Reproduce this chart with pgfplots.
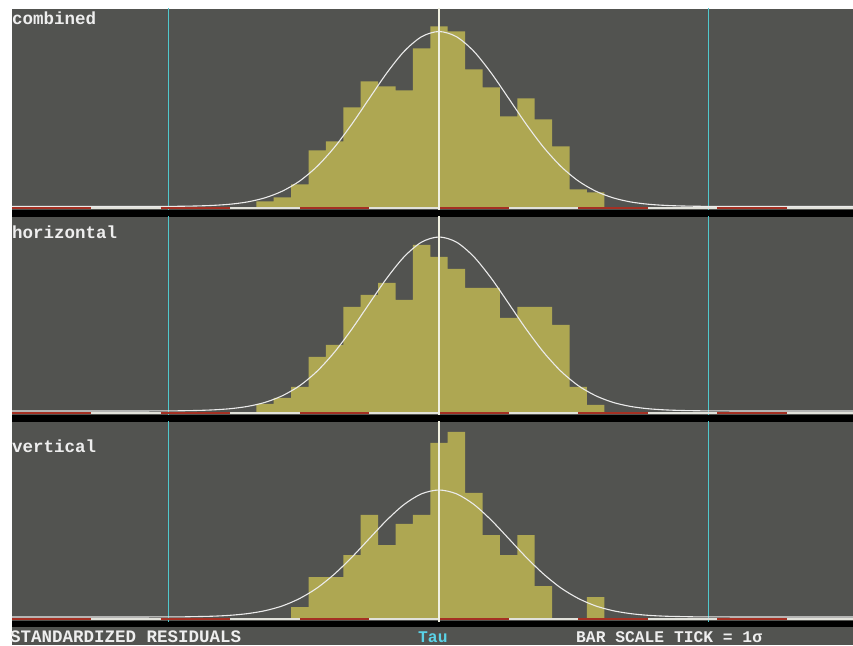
\documentclass[border=0pt]{standalone}
\usepackage{fontspec}
\setmainfont{Liberation Mono}
\newfontfamily\mono{Liberation Mono}
\usepackage{pgfplots}
\pgfplotsset{compat=1.18}
\definecolor{bgc}{RGB}{82,83,80}
\definecolor{barc}{RGB}{174,167,82}
\definecolor{cyanc}{RGB}{80,200,205}
\definecolor{centc}{RGB}{240,240,225}
\definecolor{curvec}{RGB}{235,235,235}
\definecolor{tickred}{RGB}{165,48,35}
\definecolor{tickwhite}{RGB}{225,225,218}
\definecolor{txtc}{RGB}{238,238,238}
\definecolor{tauc}{RGB}{90,210,230}
\newcommand\lab{\mono\bfseries\fontsize{17.5}{18}\selectfont}
\newcommand\labs{\mono\bfseries\fontsize{16.3}{18}\selectfont}
\pgfplotsset{panel/.style={scale only axis, width=841pt, xmin=-6.135, xmax=5.948,
  hide axis, anchor=south west, clip=true}}
\newcommand\decor{%
  \addplot[cyanc, line width=1.5pt] coordinates {(-3.89,-5) (-3.89,260)};
  \addplot[cyanc, line width=1.5pt] coordinates {(3.87,-5) (3.87,260)};
}
\newcommand\ticks{%
  \addplot[tickwhite, line width=2.2pt] coordinates {(-6.2,0.3) (6.0,0.3)};
  \addplot[tickred, line width=2.2pt, unbounded coords=jump] coordinates {(-6.2,0.3) (-5,0.3) (-5,nan) (-4,0.3) (-3,0.3) (-3,nan) (-2,0.3) (-1,0.3) (-1,nan) (0,0.3) (1,0.3) (1,nan) (2,0.3) (3,0.3) (3,nan) (4,0.3) (5,0.3)};
  \addplot[centc, line width=1.5pt] coordinates {(0,-5) (0,260)};
}
\begin{document}
\begin{tikzpicture}[x=1pt,y=1pt]
\fill[white] (0,0) rectangle (853,645);
\fill[bgc] (12,0) rectangle (853,636);
\fill[black] (12,428) rectangle (853,435);
\fill[black] (12,223) rectangle (853,230);
\fill[black] (12,18) rectangle (853,24);

% combined
\begin{axis}[panel, at={(12pt,435pt)}, height=201pt, ymin=-1.5, ymax=199.5]
\addplot[const plot, fill=barc, draw=none] coordinates {(-2.625,0) (-2.625,7) (-2.375,11) (-2.125,24) (-1.875,58) (-1.625,67) (-1.375,101) (-1.125,127) (-0.875,122) (-0.625,118) (-0.375,160) (-0.125,182) (0.125,177) (0.375,139) (0.625,121) (0.875,92) (1.125,110) (1.375,89) (1.625,62) (1.875,19) (2.125,16) (2.375,0)} \closedcycle;
\decor
\addplot[curvec, line width=1.1pt, smooth] coordinates {(-6.2,2) (-4.5,2) (-4,2.1) (-3.75,2.2) (-3.5,2.5) (-3.25,3.1) (-3,4.3) (-2.75,6.6) (-2.5,10.7) (-2.25,17.4) (-2,27.6) (-1.75,42.2) (-1.5,61.4) (-1.25,84.6) (-1,110.2) (-0.75,135.5) (-0.5,157.2) (-0.25,171.8) (0,177) (0.25,171.8) (0.5,157.2) (0.75,135.5) (1,110.2) (1.25,84.6) (1.5,61.4) (1.75,42.2) (2,27.6) (2.25,17.4) (2.5,10.7) (2.75,6.6) (3,4.3) (3.25,3.1) (3.5,2.5) (3.75,2.2) (4,2.1) (4.5,2) (6.0,2)};
\ticks
\end{axis}

% horizontal
\begin{axis}[panel, at={(12pt,230pt)}, height=198pt, ymin=-2, ymax=196]
\addplot[const plot, fill=barc, draw=none] coordinates {(-2.625,0) (-2.625,9) (-2.375,15) (-2.125,26) (-1.875,56) (-1.625,68) (-1.375,106) (-1.125,118) (-0.875,130) (-0.625,113) (-0.375,168) (-0.125,156) (0.125,144) (0.375,125) (0.625,125) (0.875,95) (1.125,106) (1.375,106) (1.625,88) (1.875,26) (2.125,8) (2.375,0)} \closedcycle;
\decor
\addplot[curvec, line width=1.1pt, smooth] coordinates {(-6.2,2) (-4.5,2) (-4,2.1) (-3.75,2.2) (-3.5,2.5) (-3.25,3.1) (-3,4.3) (-2.75,6.6) (-2.5,10.6) (-2.25,17.3) (-2,27.4) (-1.75,41.9) (-1.5,61.0) (-1.25,84.1) (-1,109.6) (-0.75,134.8) (-0.5,156.3) (-0.25,170.9) (0,176) (0.25,170.9) (0.5,156.3) (0.75,134.8) (1,109.6) (1.25,84.1) (1.5,61.0) (1.75,41.9) (2,27.4) (2.25,17.3) (2.5,10.6) (2.75,6.6) (3,4.3) (3.25,3.1) (3.5,2.5) (3.75,2.2) (4,2.1) (4.5,2) (6.0,2)};
\ticks
\end{axis}

% vertical
\begin{axis}[panel, at={(12pt,24pt)}, height=199pt, ymin=-2, ymax=197]
\addplot[const plot, fill=barc, draw=none] coordinates {(-2.125,0) (-2.125,12) (-1.875,42) (-1.625,42) (-1.375,64) (-1.125,104) (-0.875,74) (-0.625,95) (-0.375,104) (-0.125,176) (0.125,187) (0.375,126) (0.625,84) (0.875,64) (1.125,84) (1.375,33) (1.625,0) (1.875,0) (2.125,22) (2.375,0)} \closedcycle;
\decor
\addplot[curvec, line width=1.1pt, smooth] coordinates {(-6.2,2) (-4.5,2) (-4,2.1) (-3.75,2.1) (-3.5,2.4) (-3.25,2.8) (-3,3.7) (-2.75,5.4) (-2.5,8.3) (-2.25,13.1) (-2,20.6) (-1.75,31.1) (-1.5,45.1) (-1.25,61.9) (-1,80.5) (-0.75,98.9) (-0.5,114.6) (-0.25,125.2) (0,129) (0.25,125.2) (0.5,114.6) (0.75,98.9) (1,80.5) (1.25,61.9) (1.5,45.1) (1.75,31.1) (2,20.6) (2.25,13.1) (2.5,8.3) (2.75,5.4) (3,3.7) (3.25,2.8) (3.5,2.4) (3.75,2.1) (4,2.1) (4.5,2) (6.0,2)};
\ticks
\end{axis}

\node[anchor=base west, inner sep=0pt, text=txtc, font=\lab] at (12,620) {combined};
\node[anchor=base west, inner sep=0pt, text=txtc, font=\lab] at (12,406) {horizontal};
\node[anchor=base west, inner sep=0pt, text=txtc, font=\lab] at (12,192) {vertical};
\node[anchor=base west, inner sep=0pt, text=txtc, font=\lab] at (10,3) {STANDARDIZED RESIDUALS};
\node[anchor=base west, inner sep=0pt, text=tauc, font=\labs] at (418,3) {Tau};
\node[anchor=base west, inner sep=0pt, text=txtc, font=\labs] at (576,3) {BAR SCALE TICK = 1σ};
\pgfresetboundingbox
\path[use as bounding box] (0,0) rectangle (853,645);
\end{tikzpicture}
\end{document}
